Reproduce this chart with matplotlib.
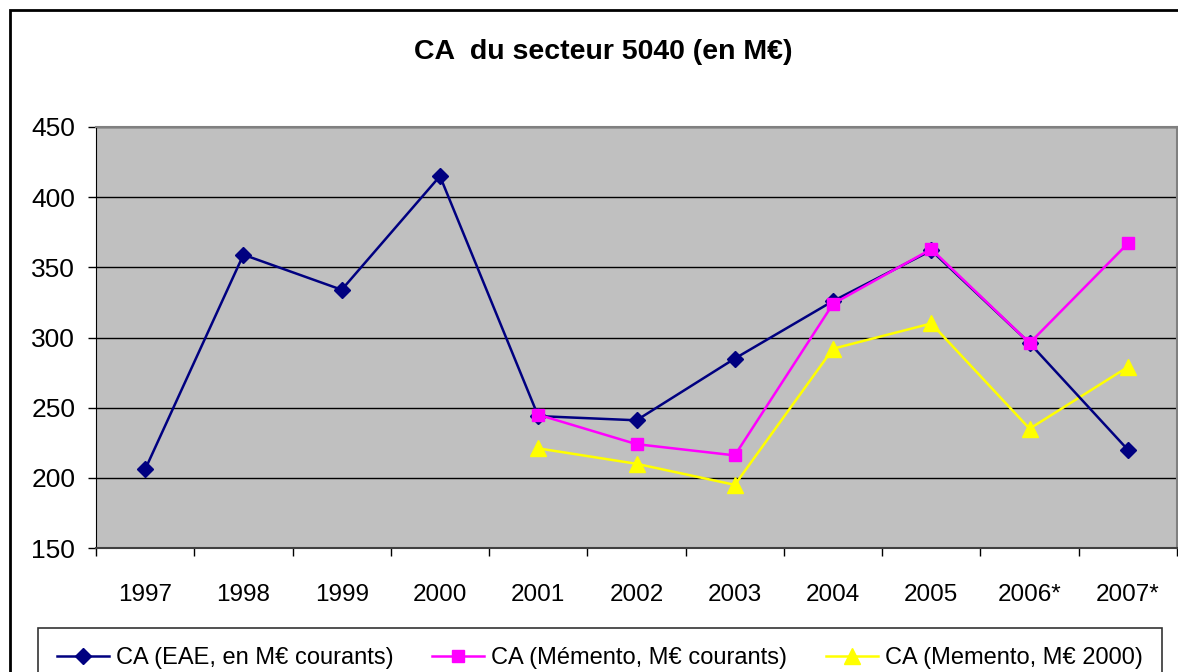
import matplotlib.pyplot as plt
import numpy as np
from matplotlib.patches import Rectangle

plt.rcParams['font.family'] = ['Liberation Sans', 'DejaVu Sans']

# Data
years = ['1997', '1998', '1999', '2000', '2001', '2002', '2003', '2004', '2005', '2006*', '2007*']
ca_eae = [206, 359, 334, 415, 244, 241, 285, 326, 362, 296, 220]
ca_memento_courants = [np.nan, np.nan, np.nan, np.nan, 245, 224, 216, 324, 363, 296, 367]
ca_memento_2000 = [np.nan, np.nan, np.nan, np.nan, 221, 210, 195, 292, 310, 235, 279]

W, H = 1178, 672
fig = plt.figure(figsize=(W / 100, H / 100), dpi=100)

# outer chart border (right and bottom fall outside the picture)
fig.patches.append(Rectangle((10 / W, -0.1), 1.2, 1 - 10 / H + 0.1, transform=fig.transFigure,
                             fill=False, edgecolor='black', linewidth=2, zorder=0))

# plot area in pixels: x 96..1177, y 127..548
ax = fig.add_axes([96 / W, 1 - 548 / H, (1177 - 96) / W, (548 - 127) / H])
ax.set_facecolor('#C0C0C0')

x = np.arange(len(years))
ax.plot(x, ca_eae, color='#000080', marker='D', markersize=8, linewidth=1.8,
        label='CA (EAE, en M€ courants)', zorder=3)
ax.plot(x, ca_memento_courants, color='#FF00FF', marker='s', markersize=9, linewidth=1.8,
        label='CA (Mémento, M€ courants)', zorder=4)
ax.plot(x, ca_memento_2000, color='#FFFF00', marker='^', markersize=11, linewidth=1.8,
        label='CA (Memento, M€ 2000)', zorder=2)

ax.set_xlim(-0.5, len(years) - 0.5)
ax.set_ylim(150, 450)
ax.set_yticks(np.arange(150, 451, 50))
ax.tick_params(axis='y', labelsize=19, length=6, width=1, direction='out', pad=9)

ax.set_xticks(x)
ax.set_xticklabels(years)
ax.set_xticks(np.arange(-0.5, len(years)), minor=True)
ax.tick_params(axis='x', which='major', length=0, labelsize=17.5, pad=26)
ax.tick_params(axis='x', which='minor', length=6, width=1, direction='out')

for y in range(200, 451, 50):
    ax.axhline(y, color='black', linewidth=1, zorder=1)

for side in ['top', 'right']:
    ax.spines[side].set_color('#808080')
    ax.spines[side].set_linewidth(1.5)
ax.spines['left'].set_color('black')
ax.spines['bottom'].set_color('#404040')
ax.spines['bottom'].set_linewidth(1.5)

fig.text(603 / W, 1 - 52 / H, 'CA  du secteur 5040 (en M€)', ha='center', va='center',
         fontsize=20.5, fontweight='bold')

leg = fig.legend(loc='upper left', bbox_to_anchor=(38 / W, 1 - 628 / H - 0.2, (1162 - 38) / W, 0.2),
                 mode='expand', ncol=3, fontsize=17, frameon=True, fancybox=False,
                 edgecolor='black', borderpad=0.8, handlelength=2.2, handletextpad=0.3,
                 columnspacing=0.4, borderaxespad=0)
leg.get_frame().set_linewidth(1.2)

fig.savefig('out.png', dpi=100)
